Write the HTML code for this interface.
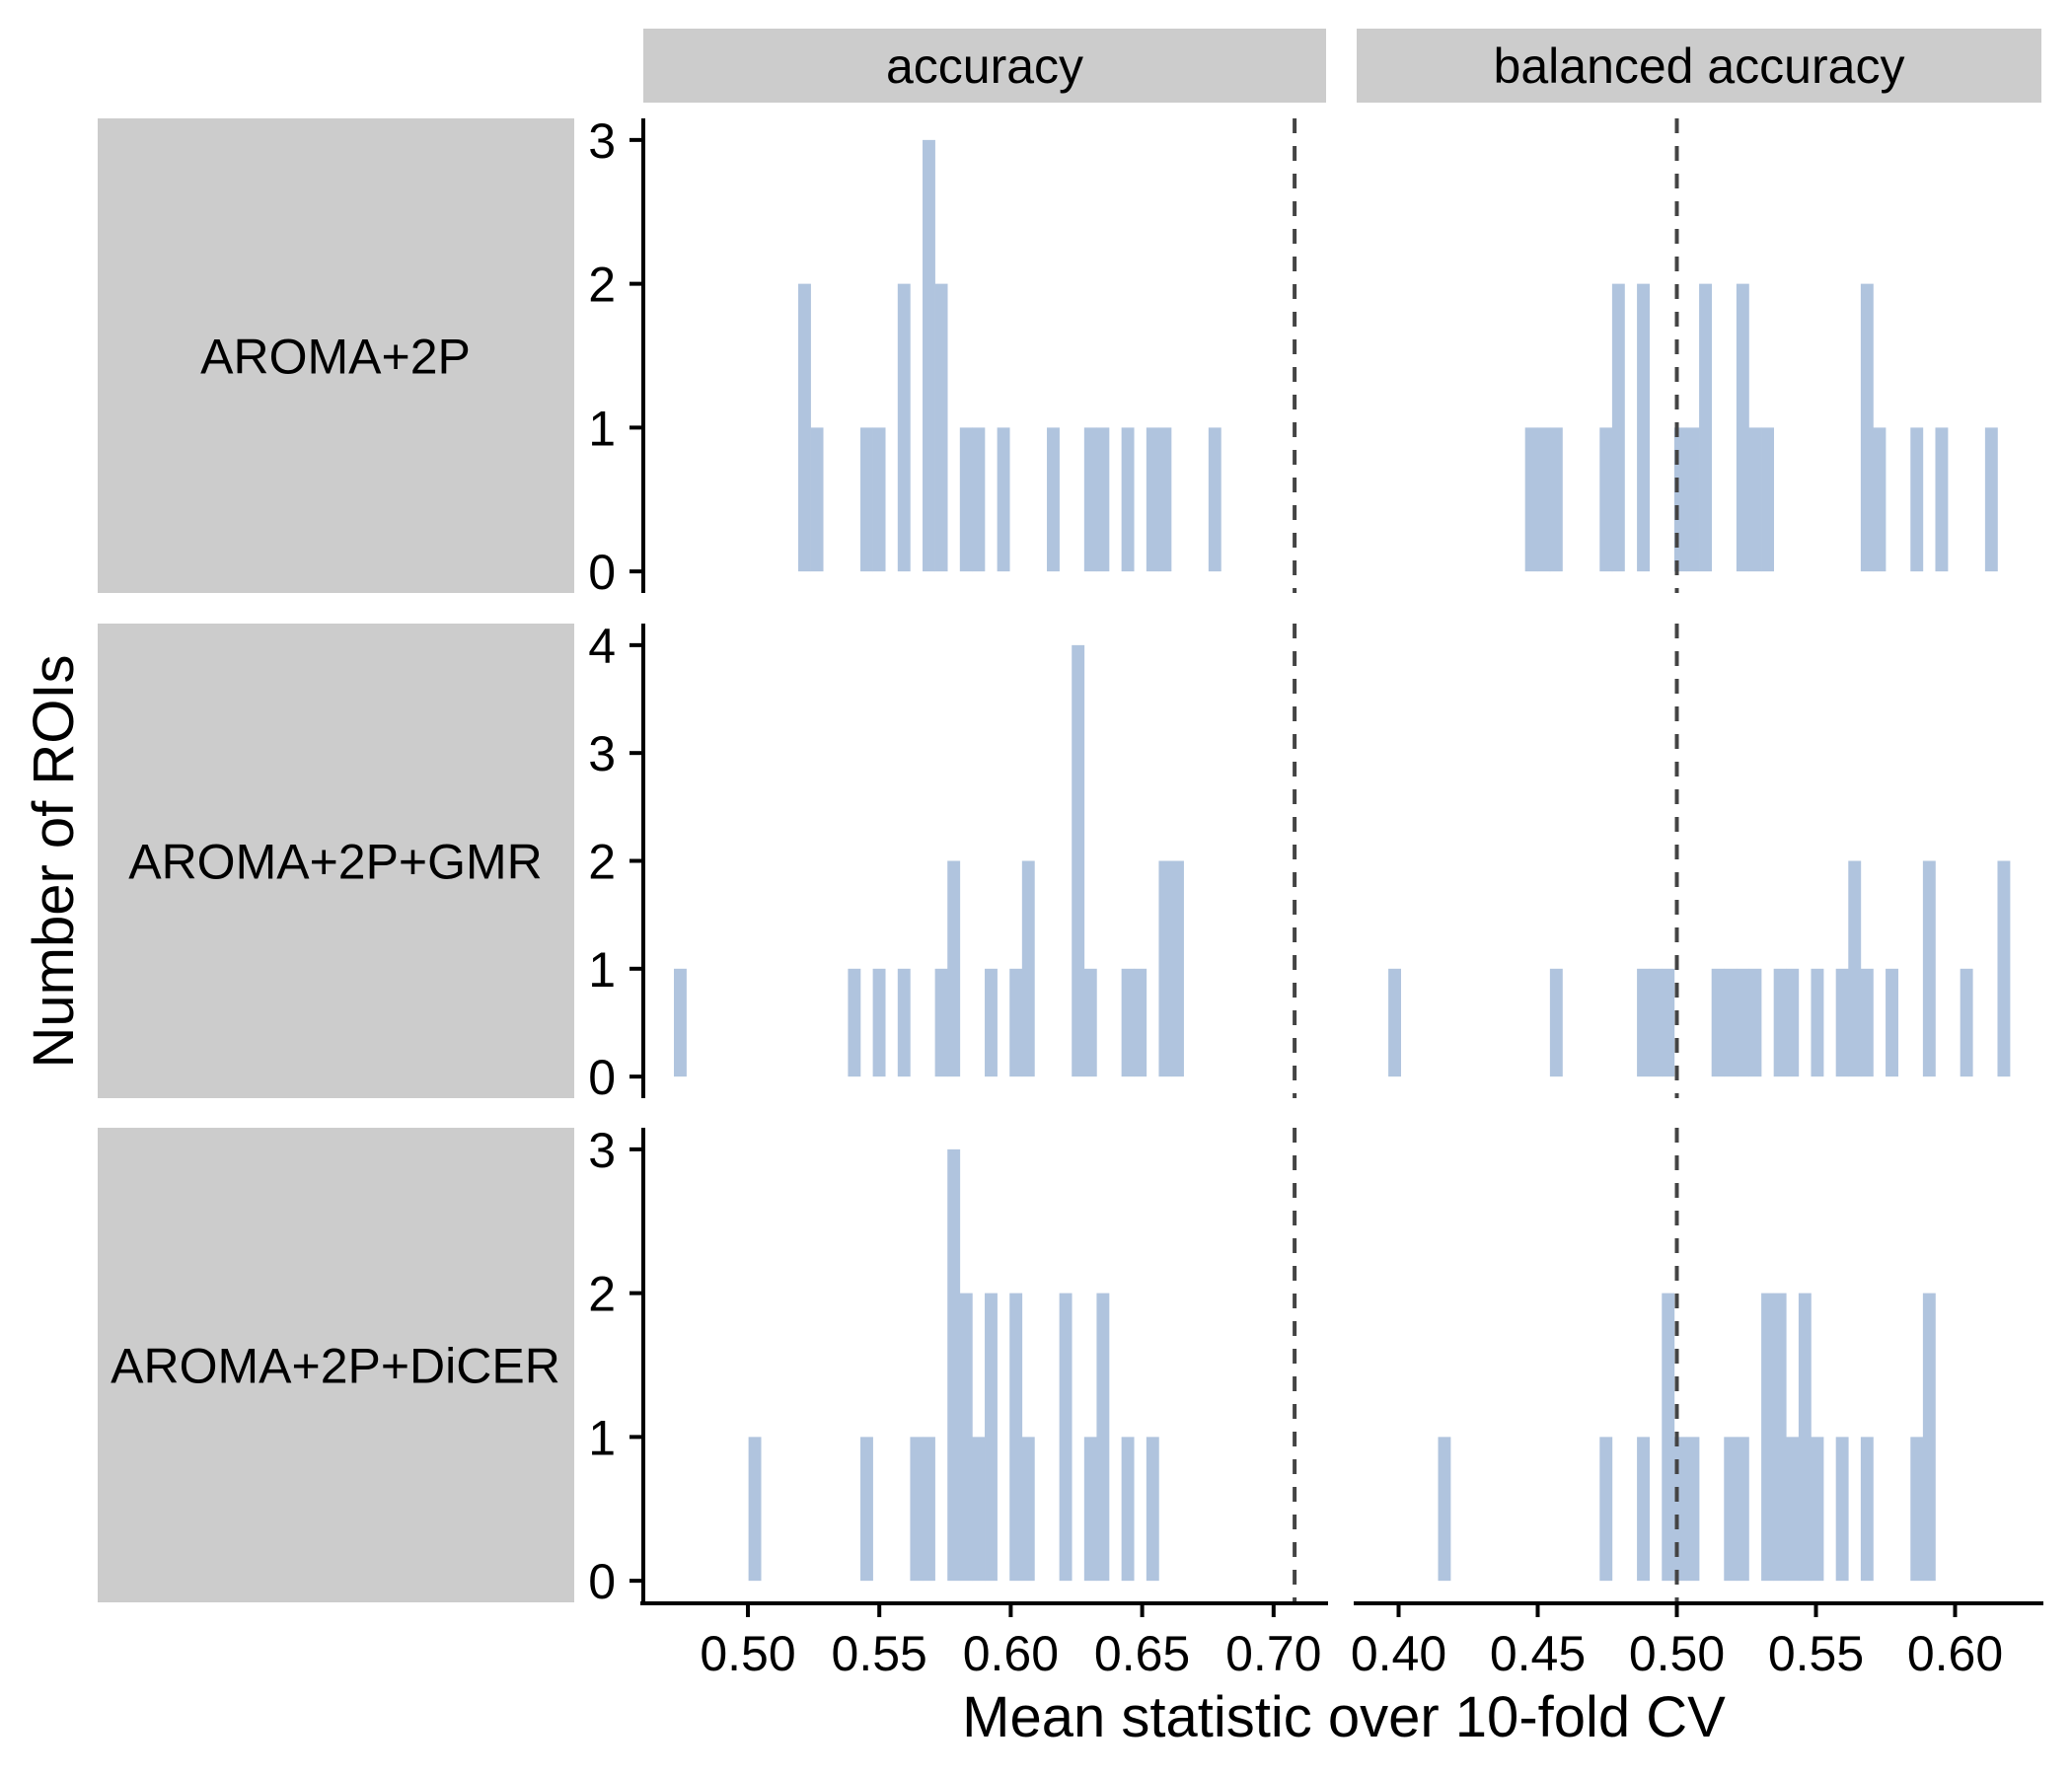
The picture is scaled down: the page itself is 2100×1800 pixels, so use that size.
<!DOCTYPE html>
<html><head><meta charset="utf-8"><style>
html,body{margin:0;padding:0;background:#fff;}
svg{display:block;font-family:"Liberation Sans",Arial,sans-serif;}
</style></head><body>
<svg id="chart" width="2100" height="1800" viewBox="0 0 2100 1800" xmlns="http://www.w3.org/2000/svg"></svg>
<script>
// ---- data ----
const columnLabels = ["accuracy", "balanced accuracy"];
const rowLabels = ["AROMA+2P", "AROMA+2P+GMR", "AROMA+2P+DiCER"];
const binStart = [0.47185, 0.39631];
const binWidth = [0.00473, 0.004468];
const refLine = [0.708, 0.50];
const xTicksAccuracy = [0.50, 0.55, 0.60, 0.65, 0.70];
const xTicksBalanced = [0.40, 0.45, 0.50, 0.55, 0.60];
const yMaxByRow = [3, 4, 3];
const countsAccR1 = [0,0,0,0,0,0,0,0,0,0, 2,1,0,0,0,1,1,0,2,0, 3,2,0,1,1,0,1,0,0,0, 1,0,0,1,1,0,1,0,1,1, 0,0,0,1,0,0,0,0,0,0];
const countsAccR2 = [1,0,0,0,0,0,0,0,0,0, 0,0,0,0,1,0,1,0,1,0, 0,1,2,0,0,1,0,1,2,0, 0,0,4,1,0,0,1,1,0,2, 2,0,0,0,0,0,0,0,0,0];
const countsAccR3 = [0,0,0,0,0,0,1,0,0,0, 0,0,0,0,0,1,0,0,0,1, 1,0,3,2,1,2,0,2,1,0, 0,2,0,1,2,0,1,0,1,0, 0,0,0,0,0,0,0,0,0,0];
const countsBalR1 = [0,0,0,0,0,0,0,0,0,0, 0,1,1,1,0,0,0,1,2,0, 2,0,0,1,1,2,0,0,2,1, 1,0,0,0,0,0,0,0,2,1, 0,0,1,0,1,0,0,0,1,0];
const countsBalR2 = [1,0,0,0,0,0,0,0,0,0, 0,0,0,1,0,0,0,0,0,0, 1,1,1,0,0,0,1,1,1,1, 0,1,1,0,1,0,1,2,1,0, 1,0,0,2,0,0,1,0,0,2];
const countsBalR3 = [0,0,0,0,1,0,0,0,0,0, 0,0,0,0,0,0,0,1,0,0, 1,0,2,1,1,0,0,1,1,0, 2,2,1,2,1,0,1,0,1,0, 0,0,1,2,0,0,0,0,0,0];

const counts = [[countsAccR1, countsBalR1],[countsAccR2, countsBalR2],[countsAccR3, countsBalR3]];
const xTicks = [xTicksAccuracy, xTicksBalanced];

// ---- layout ----
const NS = "http://www.w3.org/2000/svg";
const svg = document.getElementById("chart");
const colX = [[652,1344],[1375,2069]];
const colRef = [[0.50,758,2664],[0.40,1417.5,2820]];
const rowY = [[120,601],[632,1113],[1143,1624]];
function xs(c, v){ return colRef[c][1] + (v - colRef[c][0]) * colRef[c][2]; }
function ys(r, v){ const m=yMaxByRow[r], e=m*0.05, t=rowY[r][0], b=rowY[r][1]; return b - (v + e) / (m + 2*e) * (b - t); }
function mk(tag, attrs, parent){ const el=document.createElementNS(NS,tag); for(const k in attrs) el.setAttribute(k, attrs[k]); (parent||svg).appendChild(el); return el; }

columnLabels.forEach((lab, c) => {
  const g = mk("g", {});
  
  
  mk("rect", {x: colX[c][0], y: 29, width: colX[c][1]-colX[c][0], height: 75, fill: "#cccccc"}, g);
  const t = mk("text", {x: (colX[c][0]+colX[c][1])/2, y: 84, "text-anchor": "middle", "font-size": 50, fill: "#000"}, g);
  t.textContent = lab;
});

rowLabels.forEach((lab, r) => {
  const g = mk("g", {});
  
  
  mk("rect", {x: 99, y: rowY[r][0], width: 483, height: rowY[r][1]-rowY[r][0], fill: "#cccccc"}, g);
  const t = mk("text", {x: 340, y: (rowY[r][0]+rowY[r][1])/2 + 18, "text-anchor": "middle", "font-size": 50, fill: "#000"}, g);
  t.textContent = lab;
});

for (let r = 0; r < 3; r++) {
  for (let c = 0; c < 2; c++) {
    const g = mk("g", {});
    
    
    counts[r][c].forEach((n, i) => {
      if (!n) return;
      const x0 = xs(c, binStart[c] + i*binWidth[c]);
      const x1 = xs(c, binStart[c] + (i+1)*binWidth[c]);
      const rect = mk("rect", {x: x0, y: ys(r, n), width: x1 - x0 + 0.3, height: ys(r, 0) - ys(r, n), fill: "#b0c4de"}, g);
      
      
    });
    const lx = xs(c, refLine[c]);
    const ln = mk("line", {x1: lx, x2: lx, y1: rowY[r][0], y2: rowY[r][1], stroke: "#444", "stroke-width": 4, "stroke-dasharray": "15 13"}, g);
    
    
  }
  const ya = mk("g", {});
  
  
  mk("line", {x1: 652, x2: 652, y1: rowY[r][0], y2: rowY[r][1], stroke: "#000", "stroke-width": 4}, ya);
  for (let v = 0; v <= yMaxByRow[r]; v++) {
    const y = ys(r, v);
    mk("line", {x1: 638, x2: 652, y1: y, y2: y, stroke: "#000", "stroke-width": 4}, ya);
    const t = mk("text", {x: 624, y: y + 18, "text-anchor": "end", "font-size": 50, fill: "#000"}, ya);
    t.textContent = v;
  }
}

for (let c = 0; c < 2; c++) {
  const g = mk("g", {});
  
  
  mk("line", {x1: colX[c][0]-3, x2: colX[c][1]+2, y1: 1625, y2: 1625, stroke: "#000", "stroke-width": 4}, g);
  xTicks[c].forEach(v => {
    const x = xs(c, v);
    mk("line", {x1: x, x2: x, y1: 1625, y2: 1639, stroke: "#000", "stroke-width": 4}, g);
    const t = mk("text", {x: x, y: 1693, "text-anchor": "middle", "font-size": 50, fill: "#000"}, g);
    t.textContent = v.toFixed(2);
  });
}

const xt = mk("text", {x: 1362, y: 1760, "text-anchor": "middle", "font-size": 58, fill: "#000"});


xt.textContent = "Mean statistic over 10-fold CV";
const yt = mk("text", {x: 0, y: 0, "text-anchor": "middle", "font-size": 58, fill: "#000", transform: "translate(74,873) rotate(-90)"});


yt.textContent = "Number of ROIs";
</script>
</body></html>
